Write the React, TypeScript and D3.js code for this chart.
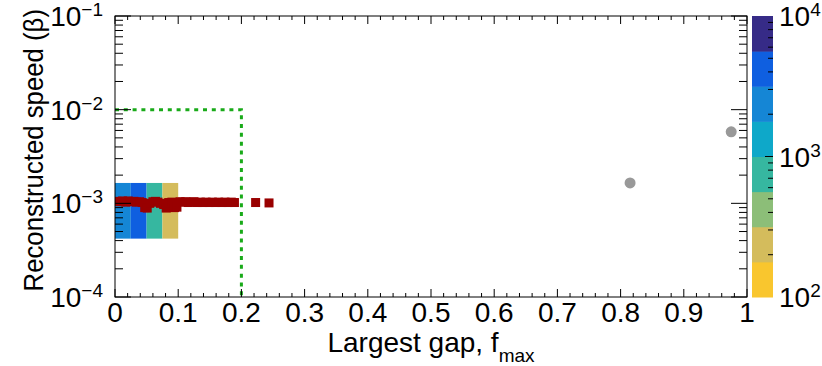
import React from 'react'
import * as d3 from 'd3'

// Data
const heatXEdges = [0, 0.025, 0.05, 0.075, 0.1]
const heatYEdges = [4.2e-4, 1.65e-3]
const heatCounts = [2500, 4500, 750, 250]

const redX = [
  0.003, 0.008, 0.012, 0.017, 0.021, 0.026, 0.03, 0.034, 0.039, 0.043, 0.047, 0.051,
  0.055, 0.06, 0.064, 0.068, 0.072, 0.077, 0.081, 0.085, 0.09, 0.094, 0.098, 0.103,
  0.107, 0.112, 0.116, 0.121, 0.125, 0.13, 0.135, 0.139, 0.144, 0.149, 0.154, 0.159,
  0.164, 0.169, 0.174, 0.179, 0.184, 0.189, 0.2225, 0.2437
]
const redY = [
  1.05e-3, 1.04e-3, 1.06e-3, 1.03e-3, 1.06e-3, 1.04e-3, 1.05e-3, 1.03e-3, 1.04e-3, 1.02e-3, 0.9e-3, 0.89e-3,
  1.0e-3, 1.04e-3, 1.05e-3, 1.03e-3, 1.0e-3, 0.97e-3, 0.89e-3, 1.02e-3, 1.03e-3, 0.9e-3, 0.91e-3, 1.04e-3,
  1.03e-3, 1.04e-3, 1.02e-3, 1.03e-3, 1.04e-3, 1.02e-3, 1.03e-3, 1.02e-3, 1.03e-3, 1.02e-3, 1.03e-3, 1.02e-3,
  1.03e-3, 1.02e-3, 1.03e-3, 1.02e-3, 1.03e-3, 1.02e-3, 1.02e-3, 1.01e-3
]

const grayX = [0.815, 0.975]
const grayY = [1.65e-3, 5.8e-3]

const cutX = [0, 0.2, 0.2]
const cutY = [1e-2, 1e-2, 1e-4]

const xTicks = [0, 0.1, 0.2, 0.3, 0.4, 0.5, 0.6, 0.7, 0.8, 0.9, 1]
const yDecades = [-4, -3, -2, -1]
const zDecades = [2, 3, 4]
const paletteColors = [
  '#f9c62e', '#d4bc5c', '#8cbe78', '#36b7a0', '#0ea8c9', '#1586d5', '#0f5fe0', '#362b87'
]

const W = 822
const H = 366
const margin = { left: 115, right: 75, top: 16, bottom: 69 }
const fL = margin.left
const fR = W - margin.right
const fT = margin.top
const fB = H - margin.bottom
const cbX = 752
const cbW = 21
const font = 'Liberation Sans, Arial, Helvetica, sans-serif'

export default function App() {
  const x = d3.scaleLinear().domain([0, 1]).range([fL, fR])
  const y = d3.scaleLog().domain([1e-4, 1e-1]).range([fB, fT])
  const z = d3.scaleLog().domain([1e2, 1e4]).range([fB, fT])
  const color = d3
    .scaleQuantize<string>()
    .domain([2, 4])
    .range(paletteColors)

  const minorX = d3.range(0, 1.0001, 0.02)
  const yMinor: number[] = []
  yDecades.slice(0, 3).forEach(e => {
    for (let k = 2; k <= 9; k++) yMinor.push(k * Math.pow(10, e))
  })
  const zMinor: number[] = []
  zDecades.slice(0, 2).forEach(e => {
    for (let k = 2; k <= 9; k++) zMinor.push(k * Math.pow(10, e))
  })

  const cutLine = d3
    .line<number>()
    .x(i => x(cutX[i]))
    .y(i => y(cutY[i]))(d3.range(cutX.length))

  const levels = d3.range(paletteColors.length)
  const lvlScale = d3.scaleLinear().domain([0, paletteColors.length]).range([fB, fT])

  return (
    <svg width={W} height={H} style={{ display: 'block', position: 'absolute', left: 0, top: 0 }} fontFamily={font}>
      <defs>
        <clipPath id="frameClip">
          <rect x={fL} y={fT} width={fR - fL} height={fB - fT} />
        </clipPath>
      </defs>
      <rect width={W} height={H} fill="#fff" />

      {/* heat map */}
      {heatCounts.map((c, i) => (
        <rect
          key={'h' + i}
          x={x(heatXEdges[i])}
          y={y(heatYEdges[1])}
          width={x(heatXEdges[i + 1]) - x(heatXEdges[i])}
          height={y(heatYEdges[0]) - y(heatYEdges[1])}
          fill={color(Math.log10(c))}
        />
      ))}

      {/* cut region */}
      <path d={cutLine || ''} fill="none" stroke="#19aa19" strokeWidth={3} strokeDasharray="4 4.8" />

      {/* red markers */}
      <g clipPath="url(#frameClip)">
        {redX.map((v, i) => (
          <rect key={'r' + i} x={x(v) - 4.5} y={y(redY[i]) - 4.5} width={9} height={9} fill="#990000" />
        ))}
      </g>

      {/* gray markers */}
      {grayX.map((v, i) => (
        <circle key={'g' + i} cx={x(v)} cy={y(grayY[i])} r={5.5} fill="#999999" />
      ))}

      {/* frame */}
      <rect x={fL} y={fT} width={fR - fL} height={fB - fT} fill="none" stroke="#000" strokeWidth={1} />

      {/* ticks */}
      <g stroke="#000" strokeWidth={1}>
        {minorX.map((v, i) => {
          const major = i % 5 === 0
          const len = major ? 8 : 4
          return (
            <g key={'xt' + i}>
              <line x1={x(v)} x2={x(v)} y1={fB} y2={fB - len} />
              <line x1={x(v)} x2={x(v)} y1={fT} y2={fT + len} />
            </g>
          )
        })}
        {yDecades.map(e => (
          <g key={'yM' + e}>
            <line x1={fL} x2={fL + 16} y1={y(Math.pow(10, e))} y2={y(Math.pow(10, e))} />
            <line x1={fR} x2={fR - 16} y1={y(Math.pow(10, e))} y2={y(Math.pow(10, e))} />
          </g>
        ))}
        {yMinor.map((v, i) => (
          <g key={'ym' + i}>
            <line x1={fL} x2={fL + 8} y1={y(v)} y2={y(v)} />
            <line x1={fR} x2={fR - 8} y1={y(v)} y2={y(v)} />
          </g>
        ))}
      </g>

      {/* x tick labels */}
      {xTicks.map(t => (
        <text key={'xl' + t} x={x(t)} y={fB + 25} fontSize={28} textAnchor="middle">
          {String(t)}
        </text>
      ))}

      {/* y tick labels */}
      {yDecades.map(e => (
        <text key={'yl' + e} x={fL - 12} y={y(Math.pow(10, e)) + 10} fontSize={28} textAnchor="end">
          <tspan>10</tspan>
          <tspan dy={-10} fontSize={19}>{'\u2212' + Math.abs(e)}</tspan>
        </text>
      ))}

      {/* axis titles */}
      <text x={(fL + fR) / 2} y={fB + 55} fontSize={28} textAnchor="middle">
        <tspan>Largest gap, f</tspan>
        <tspan dy={10} fontSize={19}>max</tspan>
      </text>
      <text
        transform={`translate(43, 9) rotate(-90) scale(0.92, 1)`}
        fontSize={28}
        textAnchor="end"
      >
        Reconstructed speed (β)
      </text>

      {/* color bar */}
      {levels.map(l => (
        <rect
          key={'cb' + l}
          x={cbX}
          y={lvlScale(l + 1)}
          width={cbW}
          height={lvlScale(l) - lvlScale(l + 1) + 0.5}
          fill={paletteColors[l]}
        />
      ))}
      <g stroke="#000" strokeWidth={1}>
        {zMinor.map((v, i) => (
          <line key={'zm' + i} x1={cbX + cbW} x2={cbX + cbW - 5} y1={z(v)} y2={z(v)} />
        ))}
        <line x1={cbX + cbW} x2={cbX + cbW - 8} y1={z(1e3)} y2={z(1e3)} />
      </g>
      {zDecades.map(e => (
        <text key={'zl' + e} x={cbX + cbW + 6} y={z(Math.pow(10, e)) + 10} fontSize={28}>
          <tspan>10</tspan>
          <tspan dy={-10} fontSize={19}>{String(e)}</tspan>
        </text>
      ))}
    </svg>
  )
}
